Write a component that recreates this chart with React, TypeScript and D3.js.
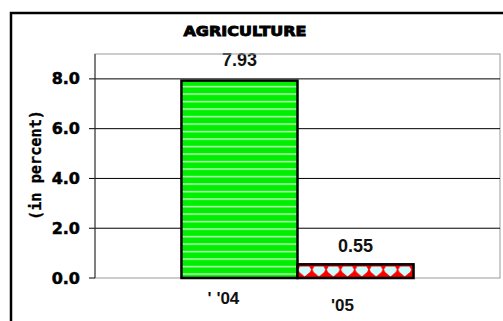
import React from "react";
import * as d3 from "d3";

const categories = ["'04", "'05"];
const values = [7.93, 0.55];
const valueLabels = ["7.93", "0.55"];
const xLabels = ["' '04", "'05"];
const yTicks = [0, 2, 4, 6, 8];
const title = "AGRICULTURE";
const yTitle = "(in percent)";

const W = 503;
const H = 321;
const plot = { left: 95, right: 500, top: 54, bottom: 278 };

export default function App() {
  const y = d3.scaleLinear().domain([0, 9]).range([plot.bottom, plot.top]);
  const x = d3
    .scaleBand<string>()
    .domain(categories)
    .range([plot.left, plot.right])
    .paddingInner(0)
    .paddingOuter(0.745);
  const bw = x.bandwidth();
  const fills = ["url(#stripes)", "url(#gems)"];
  // label offsets relative to bar centre, as in the picture
  const labelDx = [-16, -13];
  const labelY = [304, 311];
  const valueDy = [-15, -12];

  return (
    <svg
      width={W}
      height={H}
      style={{ position: "absolute", left: 0, top: 0, background: "#fff" }}
    >
      <defs>
        <pattern id="stripes" patternUnits="userSpaceOnUse" width={8} height={7.5} y={plot.bottom}>
          <rect width={8} height={7.5} fill="#00ee00" />
          <rect y={3} width={8} height={1.2} fill="#e8ffe8" />
        </pattern>
        <pattern id="gems" patternUnits="userSpaceOnUse" width={14.3} height={14} x={x("'05")!} y={plot.bottom - 14}>
          <rect width={14.3} height={14} fill="#ff0000" />
          <path d="M2.5,2.5 L11.8,2.5 L13.6,5.5 L12.5,8 L7.15,12.5 L1.8,8 L0.7,5.5 Z" fill="#ccffff" />
        </pattern>
      </defs>

      {/* outer frame */}
      <rect x={11} y={13} width={W} height={H} fill="none" stroke="#000" strokeWidth={2.5} />

      <text
        x={245}
        y={36}
        textAnchor="middle"
        fontFamily="DejaVu Sans"
        fontWeight="bold"
        fontSize={14}
        stroke="#000"
        strokeWidth={0.9}
        textLength={123}
        lengthAdjust="spacingAndGlyphs"
      >
        {title}
      </text>

      {categories.map((c, i) => (
        <text
          key={c}
          x={x(c)! + bw / 2}
          y={y(values[i]) + valueDy[i]}
          textAnchor="middle"
          fontFamily="Liberation Sans, Arial"
          fontWeight="bold"
          fontSize={18}
          fill="#111"
        >
          {valueLabels[i]}
        </text>
      ))}

      {/* plot frame */}
      <rect
        x={plot.left}
        y={plot.top}
        width={plot.right - plot.left}
        height={plot.bottom - plot.top}
        fill="none"
        stroke="#999"
        strokeWidth={1}
      />

      {yTicks.map((t) => (
        <g key={t}>
          {t > 0 && (
            <line x1={plot.left} x2={plot.right} y1={y(t)} y2={y(t)} stroke="#000" strokeWidth={1} />
          )}
          <line x1={plot.left - 6} x2={plot.left} y1={y(t)} y2={y(t)} stroke="#000" strokeWidth={1} />
          <text
            x={80}
            y={y(t) + 5.5}
            textAnchor="end"
            fontFamily="DejaVu Sans"
            fontWeight="bold"
            fontSize={16}
            stroke="#000"
            strokeWidth={0.5}
          >
            {t.toFixed(1)}
          </text>
        </g>
      ))}
      <line x1={plot.left} x2={plot.left} y1={plot.top} y2={plot.bottom} stroke="#333" strokeWidth={1} />

      <text
        transform={`translate(41,165) rotate(-90)`}
        textAnchor="middle"
        fontFamily="DejaVu Sans Mono"
        fontWeight="bold"
        fontSize={15}
        stroke="#000"
        strokeWidth={0.3}
        textLength={110}
        lengthAdjust="spacingAndGlyphs"
      >
        {yTitle}
      </text>

      {categories.map((c, i) => (
        <g key={c}>
          <rect
            x={x(c)!}
            y={y(values[i])}
            width={bw}
            height={plot.bottom - y(values[i])}
            fill={fills[i]}
            stroke="#000"
            strokeWidth={2.5}
          />
          <text
            x={x(c)! + bw / 2 + labelDx[i]}
            y={labelY[i]}
            textAnchor="middle"
            fontFamily="Liberation Sans, Arial"
            fontWeight="bold"
            fontSize={17}
            fill="#111"
          >
            {xLabels[i]}
          </text>
        </g>
      ))}
    </svg>
  );
}
